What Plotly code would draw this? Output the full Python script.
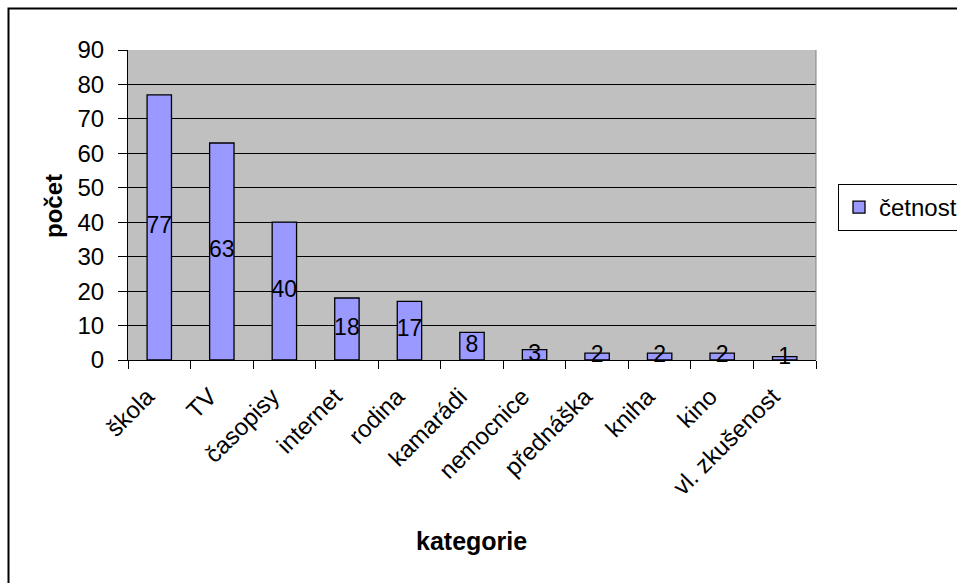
import plotly.graph_objects as go

categories = ["škola", "TV", "časopisy", "internet", "rodina", "kamarádi",
              "nemocnice", "přednáška", "kniha", "kino", "vl. zkušenost"]
values = [77, 63, 40, 18, 17, 8, 3, 2, 2, 2, 1]
series_name = "četnost"
y_ticks = [0, 10, 20, 30, 40, 50, 60, 70, 80, 90]

W, H = 957, 583
FONT = "Liberation Sans, Arial, sans-serif"

def px(x):
    return x / W

def py(y):
    return 1 - y / H

fig = go.Figure()
fig.add_trace(go.Bar(
    x=categories, y=values, name=series_name,
    marker=dict(color="#9999FF", line=dict(color="black", width=1.3)),
    width=0.39,
))
fig.add_trace(go.Scatter(
    x=categories, y=[v / 2 for v in values], mode="text",
    text=[str(v) for v in values], textposition="middle center",
    textfont=dict(family=FONT, size=23, color="black"),
    showlegend=False, hoverinfo="skip", cliponaxis=False,
))

fig.update_layout(
    width=W, height=H,
    margin=dict(l=0, r=0, t=0, b=0, autoexpand=False),
    paper_bgcolor="white",
    plot_bgcolor="#C0C0C0",
    font=dict(family=FONT, size=22, color="black"),
    bargap=0.61,
    showlegend=True,
    legend=dict(
        x=px(838), y=py(184), xanchor="left", yanchor="top",
        bgcolor="white", bordercolor="black", borderwidth=1,
        font=dict(family=FONT, size=24, color="black"),
        itemwidth=30, tracegroupgap=0,
    ),
    xaxis=dict(
        domain=[px(128), px(816)],
        range=[-0.5, 10.5],
        automargin=False,
        showline=True, linecolor="black", linewidth=1,
        ticks="outside", tickson="boundaries", ticklen=8, tickcolor="black",
        tickangle=-45,
        ticklabelshift=-12, ticklabelstandoff=12,
        tickfont=dict(family=FONT, size=24, color="black"),
        showgrid=False,
    ),
    yaxis=dict(
        domain=[py(360), py(50)],
        range=[0, 90],
        automargin=False,
        tickvals=y_ticks,
        showline=True, linecolor="black", linewidth=1,
        ticks="outside", ticklen=9, tickcolor="black",
        ticklabelstandoff=9,
        tickfont=dict(family=FONT, size=24, color="black"),
        showgrid=True, gridcolor="black", gridwidth=1,
        zeroline=False,
    ),
    shapes=[
        dict(type="line", xref="x domain", yref="y domain",
             x0=1, x1=1, y0=0, y1=1, line=dict(color="#808080", width=1)),
        dict(type="rect", xref="paper", yref="paper",
             x0=px(8.5), x1=1.05, y0=-0.05, y1=py(8.5),
             line=dict(color="black", width=2)),
    ],
    annotations=[
        dict(text="<b>počet</b>", x=px(54), y=py(206), xref="paper", yref="paper",
             xanchor="center", yanchor="middle",
             textangle=-90, showarrow=False,
             font=dict(family=FONT, size=24, color="black")),
        dict(text="<b>kategorie</b>", x=px(471), y=py(541), xref="paper", yref="paper",
             xanchor="center", yanchor="middle",
             showarrow=False,
             font=dict(family=FONT, size=25, color="black")),
    ],
)

fig.write_html("out.html")
